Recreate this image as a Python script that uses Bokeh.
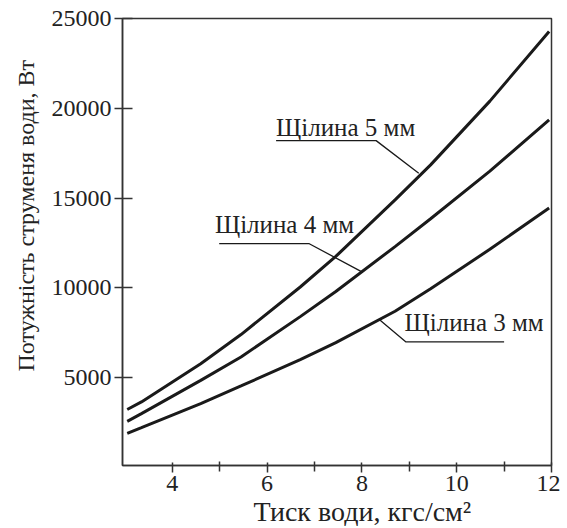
from bokeh.plotting import figure
from bokeh.models import FixedTicker, Label, Range1d, Title
from bokeh.embed import file_html
from bokeh.resources import INLINE

# Data
pressure = [3.05, 3.35, 4.6, 5.45, 6.7, 7.45, 8.7, 9.45, 10.7, 11.95]
gap_5mm = [3230, 3650, 5780, 7400, 10050, 11750, 14900, 16850, 20400, 24280]
gap_4mm = [2570, 3000, 4850, 6150, 8400, 9800, 12300, 13850, 16500, 19360]
gap_3mm = [1900, 2220, 3560, 4540, 6000, 6950, 8700, 9950, 12150, 14450]

x_ticks = [4, 6, 8, 10, 12]
x_minor = [5, 7, 9, 11]
y_ticks = [5000, 10000, 15000, 20000, 25000]

series_labels = ["Щілина 5 мм", "Щілина 4 мм", "Щілина 3 мм"]
# annotation anchor (text left x, text baseline y) and leader polylines
label_pos = [(6.19, 18950), (4.9, 13550), (8.9, 8050)]
leader_x = [[6.19, 8.30, 9.20], [4.99, 6.89, 8.02], [8.36, 8.93, 11.0]]
leader_y = [[18200, 18200, 16380], [12460, 12460, 10860], [8260, 6990, 6990]]

x_title = "Тиск води, кгс/см²"
y_title = "Потужність струменя води, Вт"

FONT = "Times New Roman"
TXT = "#222222"

p = figure(width=560, height=526, output_backend="svg", toolbar_location=None,
           x_range=Range1d(2.95, 12.0), y_range=Range1d(110, 25000),
           min_border_left=121, min_border_top=18, min_border_right=9,
           min_border_bottom=60)
p.grid.visible = False
p.outline_line_color = "#333333"
p.outline_line_width = 1.5
p.background_fill_color = "white"
p.border_fill_color = "white"

for ax in (p.xaxis[0], p.yaxis[0]):
    ax.axis_line_color = "#333333"
    ax.axis_line_width = 1.5
    ax.major_tick_line_color = "#333333"
    ax.major_tick_line_width = 1.5
    ax.minor_tick_line_color = "#333333"
    ax.minor_tick_line_width = 1.5
    ax.major_label_text_font = FONT
    ax.major_label_text_font_size = "24px"
    ax.major_label_text_color = TXT

p.xaxis.ticker = FixedTicker(ticks=x_ticks, minor_ticks=x_minor)
p.xaxis.major_tick_in = 3
p.xaxis.major_tick_out = 7
p.xaxis.minor_tick_in = 4
p.xaxis.minor_tick_out = 6
p.xaxis.major_label_standoff = 3

p.yaxis.ticker = FixedTicker(ticks=y_ticks, minor_ticks=[])
p.yaxis.major_tick_in = 10
p.yaxis.major_tick_out = 8
p.yaxis.major_label_standoff = 3

for ys in (gap_5mm, gap_4mm, gap_3mm):
    p.line(pressure, ys, line_color="#1a1a1a", line_width=3)

for name, (tx, ty), lx, ly in zip(series_labels, label_pos, leader_x, leader_y):
    p.line(lx, ly, line_color="#1a1a1a", line_width=1.3)
    p.add_layout(Label(x=tx, y=ty, text=name, text_font=FONT,
                       text_font_size="25px", text_color=TXT,
                       text_align="left", text_baseline="alphabetic"))

p.add_layout(Title(text=x_title, align="left", offset=131, text_font=FONT,
                   text_font_size="28px", text_font_style="normal",
                   text_color=TXT, standoff=0), "below")
p.add_layout(Title(text=y_title, align="left", offset=94, text_font=FONT,
                   text_font_size="24px", text_font_style="normal",
                   text_color=TXT, standoff=20), "left")

open("out.html", "w").write(file_html(p, INLINE))
